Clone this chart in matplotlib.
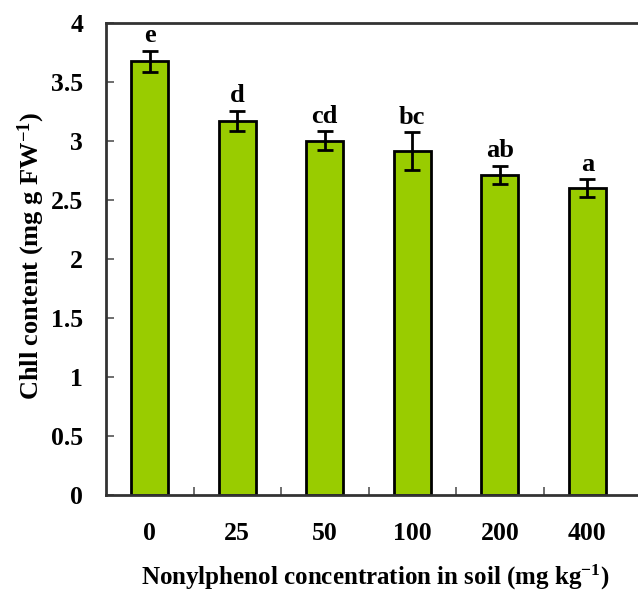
import matplotlib
matplotlib.use("Agg")
import matplotlib.pyplot as plt
import numpy as np

categories = ["0", "25", "50", "100", "200", "400"]
values = [3.67, 3.17, 3.00, 2.91, 2.71, 2.60]
errors = [0.09, 0.085, 0.08, 0.16, 0.077, 0.075]
letters = ["e", "d", "cd", "bc", "ab", "a"]
yticks = [0, 0.5, 1, 1.5, 2, 2.5, 3, 3.5, 4]
ytick_labels = ["0", "0.5", "1", "1.5", "2", "2.5", "3", "3.5", "4"]

plt.rcParams['font.family'] = ['Liberation Serif', 'DejaVu Serif']
plt.rcParams['font.weight'] = 'bold'
plt.rcParams['mathtext.fontset'] = 'custom'
plt.rcParams['mathtext.rm'] = 'Liberation Serif:bold'
plt.rcParams['mathtext.bf'] = 'Liberation Serif:bold'
plt.rcParams['mathtext.it'] = 'Liberation Serif:bold'
plt.rcParams['mathtext.default'] = 'bf'

W, H = 638, 594
fig = plt.figure(figsize=(W/100, H/100), dpi=100)
left, right, top, bottom = 106, 650, 22.5, 495
ax = fig.add_axes([left/W, 1 - bottom/H, (right-left)/W, (bottom-top)/H])

x = np.arange(len(categories))
ax.bar(x, values, width=0.42, color="#99CC00", edgecolor="black", linewidth=2, zorder=2)
ax.errorbar(x, values, yerr=errors, fmt='none', ecolor='black', elinewidth=2,
            capsize=5.8, capthick=2, zorder=3)
for xi, v, e, l in zip(x, values, errors, letters):
    ax.annotate(l, (xi, v + e), xytext=(0, 2.5), textcoords='offset points',
                ha='center', va='bottom', fontsize=19, fontweight='bold')

ax.set_xlim(-0.5, -0.5 + (right-left)/87.5)
ax.set_ylim(0, 4)
ax.set_yticks(yticks)
ax.set_yticklabels(ytick_labels, fontsize=18.5, fontweight='bold')
ax.set_xticks(x)
ax.set_xticklabels(categories, fontsize=18.5, fontweight='bold')
ax.set_xticks(np.arange(0.5, 5.0, 1.0), minor=True)
ax.tick_params(axis='x', which='major', length=0, pad=19.5)
ax.tick_params(axis='x', which='minor', direction='in', length=6, width=1.2, color='#555555')
ax.tick_params(axis='y', direction='in', length=6, width=1.2, pad=16.5, color='#555555')

for s in ['left', 'bottom', 'top']:
    ax.spines[s].set_linewidth(2)
    ax.spines[s].set_color('#333333')
ax.spines['right'].set_visible(False)

ax.set_ylabel("Chll content (mg g FW$^{-1}$)", fontsize=19, fontweight='bold')
ax.yaxis.set_label_coords(-(106 - 31)/(right-left), (bottom - 256)/(bottom-top))
ax.yaxis.label.set_va('center')
ax.set_xlabel("Nonylphenol concentration in soil (mg kg$^{-1}$)", fontsize=18,
              fontweight='bold')
ax.xaxis.set_label_coords((375 - left)/(right-left), -(577 - bottom)/(bottom-top))
ax.xaxis.label.set_va('center')

fig.savefig("out.png", dpi=100)
